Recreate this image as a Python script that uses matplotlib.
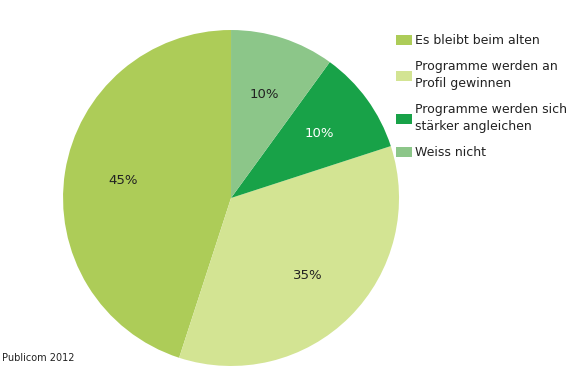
import matplotlib.pyplot as plt
import numpy as np

# Survey answers (Publicom 2012)
labels = ['Es bleibt beim alten', 'Programme werden an\nProfil gewinnen',
          'Programme werden sich\nstärker angleichen', 'Weiss nicht']
shares = [45, 35, 10, 10]
colors = ['#adcc58', '#d3e493', '#18a248', '#8cc689']
pct_labels = ['45%', '35%', '10%', '10%']
pct_colors = ['#222222', '#222222', 'white', '#222222']

fig = plt.figure(figsize=(5.68, 3.78), dpi=100)
ax = fig.add_axes([0.111, 0.0317, 0.5915, 0.889])

wedges, texts = ax.pie(shares, colors=colors, startangle=90, radius=1,
                       wedgeprops=dict(linewidth=0))
ax.set_xlim(-1, 1)
ax.set_ylim(-1, 1)
ax.set_aspect('equal')

# percentage labels at about 0.65 of the radius
for w, lab, c in zip(wedges, pct_labels, pct_colors):
    mid = np.deg2rad((w.theta1 + w.theta2) / 2)
    ax.text(0.65 * np.cos(mid), 0.65 * np.sin(mid), lab, ha='center', va='center',
            fontsize=9.5, color=c)

leg = fig.legend(wedges, labels, loc='upper left', bbox_to_anchor=(0.697, 0.91),
                 frameon=False, fontsize=9, handlelength=1.3, handleheight=0.9,
                 handletextpad=0.2, labelspacing=1.05, borderpad=0, borderaxespad=0)
for t in leg.get_texts():
    t.set_linespacing(1.4)
    t.set_color('#222222')

fig.text(0.004, 0.045, 'Publicom 2012', fontsize=7, color='#222222')

plt.savefig('out.png', dpi=100)
plt.close()
